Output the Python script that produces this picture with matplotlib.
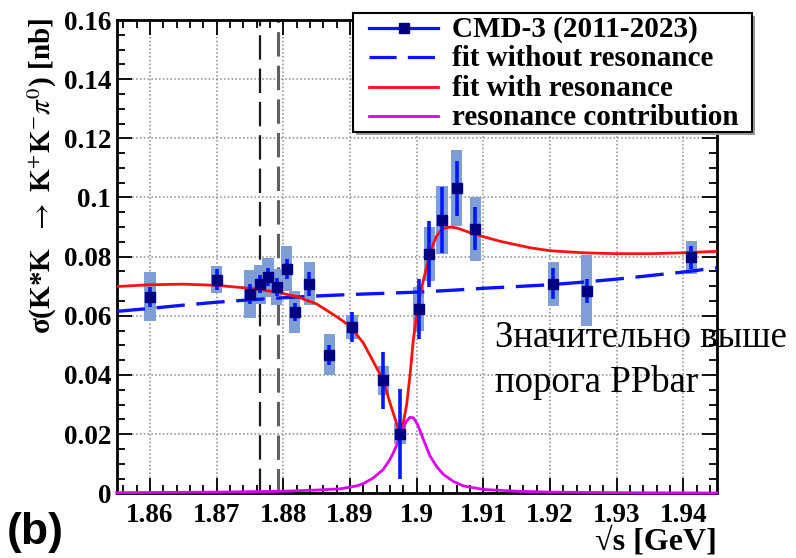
import matplotlib
matplotlib.use("Agg")
import matplotlib.pyplot as plt
from matplotlib.lines import Line2D
from matplotlib.patches import Rectangle
from matplotlib.ticker import MultipleLocator

# ---------------- data ----------------
x_data = [1.8600, 1.8700, 1.8750, 1.8765, 1.8777, 1.8790, 1.8805, 1.8817, 1.8839,
          1.8869, 1.8903, 1.8950, 1.8975, 1.9003, 1.9019, 1.9038, 1.9060, 1.9088,
          1.9205, 1.9255, 1.9412]
y_data = [0.0665, 0.0722, 0.0673, 0.0707, 0.0730, 0.0697, 0.0759, 0.0613, 0.0708,
          0.0469, 0.0563, 0.0382, 0.0202, 0.0623, 0.0809, 0.0924, 0.1031, 0.0894,
          0.0708, 0.0685, 0.0798]
stat_err = [0.0034, 0.0036, 0.0034, 0.0030, 0.0030, 0.0030, 0.0034, 0.0030, 0.0040,
            0.0034, 0.0050, 0.0097, 0.0152, 0.0100, 0.0110, 0.0113, 0.0092, 0.0073,
            0.0052, 0.0040, 0.0039]
syst_err = [0.0083, 0.0046, 0.0081, 0.0066, 0.0067, 0.0060, 0.0076, 0.0070, 0.0073,
            0.0069, 0.0040, 0.0050, 0.0034, 0.0073, 0.0090, 0.0115, 0.0128, 0.0108,
            0.0075, 0.0120, 0.0055]

x_nores = [1.855, 1.860, 1.865, 1.870, 1.875, 1.880, 1.885, 1.890, 1.895, 1.900,
           1.905, 1.910, 1.915, 1.920, 1.925, 1.930, 1.935, 1.940, 1.945]
y_nores = [0.0615, 0.0625, 0.0636, 0.0646, 0.0654, 0.0661, 0.0667, 0.0672, 0.0676, 0.0680,
           0.0686, 0.0693, 0.0699, 0.0705, 0.0714, 0.0724, 0.0736, 0.0748, 0.0762]

x_res = [1.855, 1.860, 1.865, 1.870, 1.875, 1.879, 1.882, 1.885, 1.888, 1.890,
         1.892, 1.8935, 1.895, 1.896, 1.897, 1.8975, 1.898, 1.8985, 1.899, 1.8995,
         1.900, 1.9005, 1.901, 1.9015, 1.902, 1.9025, 1.903, 1.9035, 1.904, 1.905,
         1.906, 1.9088, 1.9125, 1.917, 1.920, 1.925, 1.930, 1.935, 1.940, 1.945]
y_res = [0.0699, 0.0705, 0.0707, 0.0703, 0.0693, 0.0680, 0.0665, 0.0640, 0.0597, 0.0565,
         0.0508, 0.0445, 0.0380, 0.0305, 0.0235, 0.0195, 0.0240, 0.0300, 0.0400, 0.0520,
         0.0600, 0.0670, 0.0720, 0.0765, 0.0810, 0.0845, 0.0870, 0.0885, 0.0895, 0.0900,
         0.0897, 0.0875, 0.0852, 0.0830, 0.0820, 0.0813, 0.0810, 0.0810, 0.0813, 0.0818]

x_contrib = [1.855, 1.870, 1.880, 1.885, 1.8885, 1.891, 1.892, 1.8935, 1.895, 1.896,
             1.8965, 1.897, 1.8975, 1.898, 1.8985, 1.899, 1.8995, 1.900, 1.9005, 1.901,
             1.902, 1.903, 1.904, 1.9055, 1.907, 1.910, 1.915, 1.920, 1.930, 1.945]
y_contrib = [0.0002, 0.0004, 0.0007, 0.0011, 0.0015, 0.0025, 0.0033, 0.0052, 0.0081, 0.0115,
             0.0137, 0.0163, 0.0193, 0.0222, 0.0245, 0.0257, 0.0255, 0.0238, 0.0212, 0.0182,
             0.0126, 0.0090, 0.0064, 0.0040, 0.0025, 0.0013, 0.0007, 0.0004, 0.0002, 0.0001]

thresholds = [1.8765, 1.8792]

x_ticks = [1.86, 1.87, 1.88, 1.89, 1.90, 1.91, 1.92, 1.93, 1.94]
x_tick_labels = ["1.86", "1.87", "1.88", "1.89", "1.9", "1.91", "1.92", "1.93", "1.94"]
y_ticks = [0.0, 0.02, 0.04, 0.06, 0.08, 0.10, 0.12, 0.14, 0.16]
y_tick_labels = ["0", "0.02", "0.04", "0.06", "0.08", "0.1", "0.12", "0.14", "0.16"]

legend_labels = ["CMD-3 (2011-2023)", "fit without resonance",
                 "fit with resonance", "resonance contribution"]

# ---------------- style ----------------
plt.rcParams["mathtext.fontset"] = "stix"
serif = "Liberation Serif"
BLUE, NAVY, RED, MAG = "#0a14ff", "#000080", "#ff1010", "#dc00f0"
DASH_BLUE = (0, (8.5, 3.5))

W, H = 796, 558
fig = plt.figure(figsize=(W / 100, H / 100), dpi=100)
ax = fig.add_axes([116.7 / W, 1 - 493.3 / H, 600 / W, 473.3 / H])

ax.set_xlim(1.855, 1.945)
ax.set_ylim(0, 0.16)
ax.set_axisbelow(True)
ax.grid(True, which="major", linestyle=(0, (1, 1.5)), color="#8a8a8a", linewidth=1.1)

# threshold lines
ax.axvline(thresholds[0], color="#1a1a1a", lw=1.6, ls=(0, (11, 4)), zorder=2)
ax.axvline(thresholds[1], color="#606060", lw=2.2, ls=(0, (8, 3)), zorder=2)

# systematic boxes
ax.bar(x_data, [2 * s for s in syst_err], bottom=[y - s for y, s in zip(y_data, syst_err)],
       width=0.0017, color="#7f9ed6", edgecolor="none", zorder=3)

# curves
ax.plot(x_nores, y_nores, color=BLUE, lw=2.4, ls=DASH_BLUE, zorder=4)
ax.plot(x_res, y_res, color=RED, lw=2.0, zorder=5)
ax.plot(x_contrib, y_contrib, color=MAG, lw=2.0, zorder=5, clip_on=False)

# data with stat errors
ax.errorbar(x_data, y_data, yerr=stat_err, fmt="s", color=NAVY, ms=7,
            ecolor="#0018ff", elinewidth=2.6, capsize=0, zorder=6)

ax.set_xticks(x_ticks)
ax.set_xticklabels(x_tick_labels)
ax.set_yticks(y_ticks)
ax.set_yticklabels(y_tick_labels)
ax.xaxis.set_minor_locator(MultipleLocator(0.002))
ax.yaxis.set_minor_locator(MultipleLocator(0.005))
ax.tick_params(which="both", direction="in", top=True, right=True, width=1.3, color="black")
ax.tick_params(which="major", length=11)
ax.tick_params(which="minor", length=5.5)
ax.tick_params(axis="x", which="major", pad=7)
ax.tick_params(axis="y", which="major", pad=4)
for lab in ax.get_xticklabels() + ax.get_yticklabels():
    lab.set_fontfamily(serif)
    lab.set_fontweight("bold")
    lab.set_fontsize(19.5)
for sp in ax.spines.values():
    sp.set_linewidth(2)

# legend (drawn in figure pixel coordinates)
def fx(px):
    return px / W

def fy(py):
    return 1 - py / H

fig.patches.append(Rectangle((fx(356), fy(135)), fx(755) - fx(356), fy(16) - fy(135),
                             transform=fig.transFigure, facecolor="#9a9a9a",
                             edgecolor="none", zorder=9))
fig.patches.append(Rectangle((fx(353), fy(132)), fx(752) - fx(353), fy(13) - fy(132),
                             transform=fig.transFigure, facecolor="white",
                             edgecolor="black", lw=1.5, zorder=10))
row_y = [28, 57, 87, 116]
styles = [
    dict(color=BLUE, lw=2.3, marker="s", ms=7, mfc=NAVY, mec=NAVY, markevery=[1]),
    dict(color=BLUE, lw=2.3, ls=DASH_BLUE),
    dict(color=RED, lw=2.0),
    dict(color=MAG, lw=2.0),
]
for ry, st, lab in zip(row_y, styles, legend_labels):
    fig.lines.append(Line2D([fx(369), fx(403.5), fx(438)], [fy(ry)] * 3,
                            transform=fig.transFigure, zorder=11, **st))
    fig.text(fx(452), fy(ry + 9), lab, ha="left", va="baseline", family=serif,
             weight="bold", fontsize=21, zorder=12)

# axis labels
fig.text(716.7 / W, 1 - 549 / H, "√s [GeV]", ha="right", va="baseline",
         family=serif, weight="bold", fontsize=23)
fig.text(42 / W, 1 - 18 / H, r"σ(K*K  $\rightarrow$ K$^{+}$K$^{-}\pi^{0}$) [nb]",
         rotation=90, ha="center", va="top", family=serif, weight="bold", fontsize=21)

# panel label
fig.text(7 / W, 1 - 544 / H, "(b)", ha="left", va="baseline",
         family="Liberation Sans", weight="bold", fontsize=32)

# annotation
fig.text(495 / W, 1 - 347 / H, "Значительно выше", ha="left", va="baseline",
         family=serif, fontsize=26.5, color="black", zorder=20)
fig.text(495 / W, 1 - 392 / H, "порога PPbar", ha="left", va="baseline",
         family=serif, fontsize=26.5, color="black", zorder=20)

fig.savefig("out.png", dpi=100)
